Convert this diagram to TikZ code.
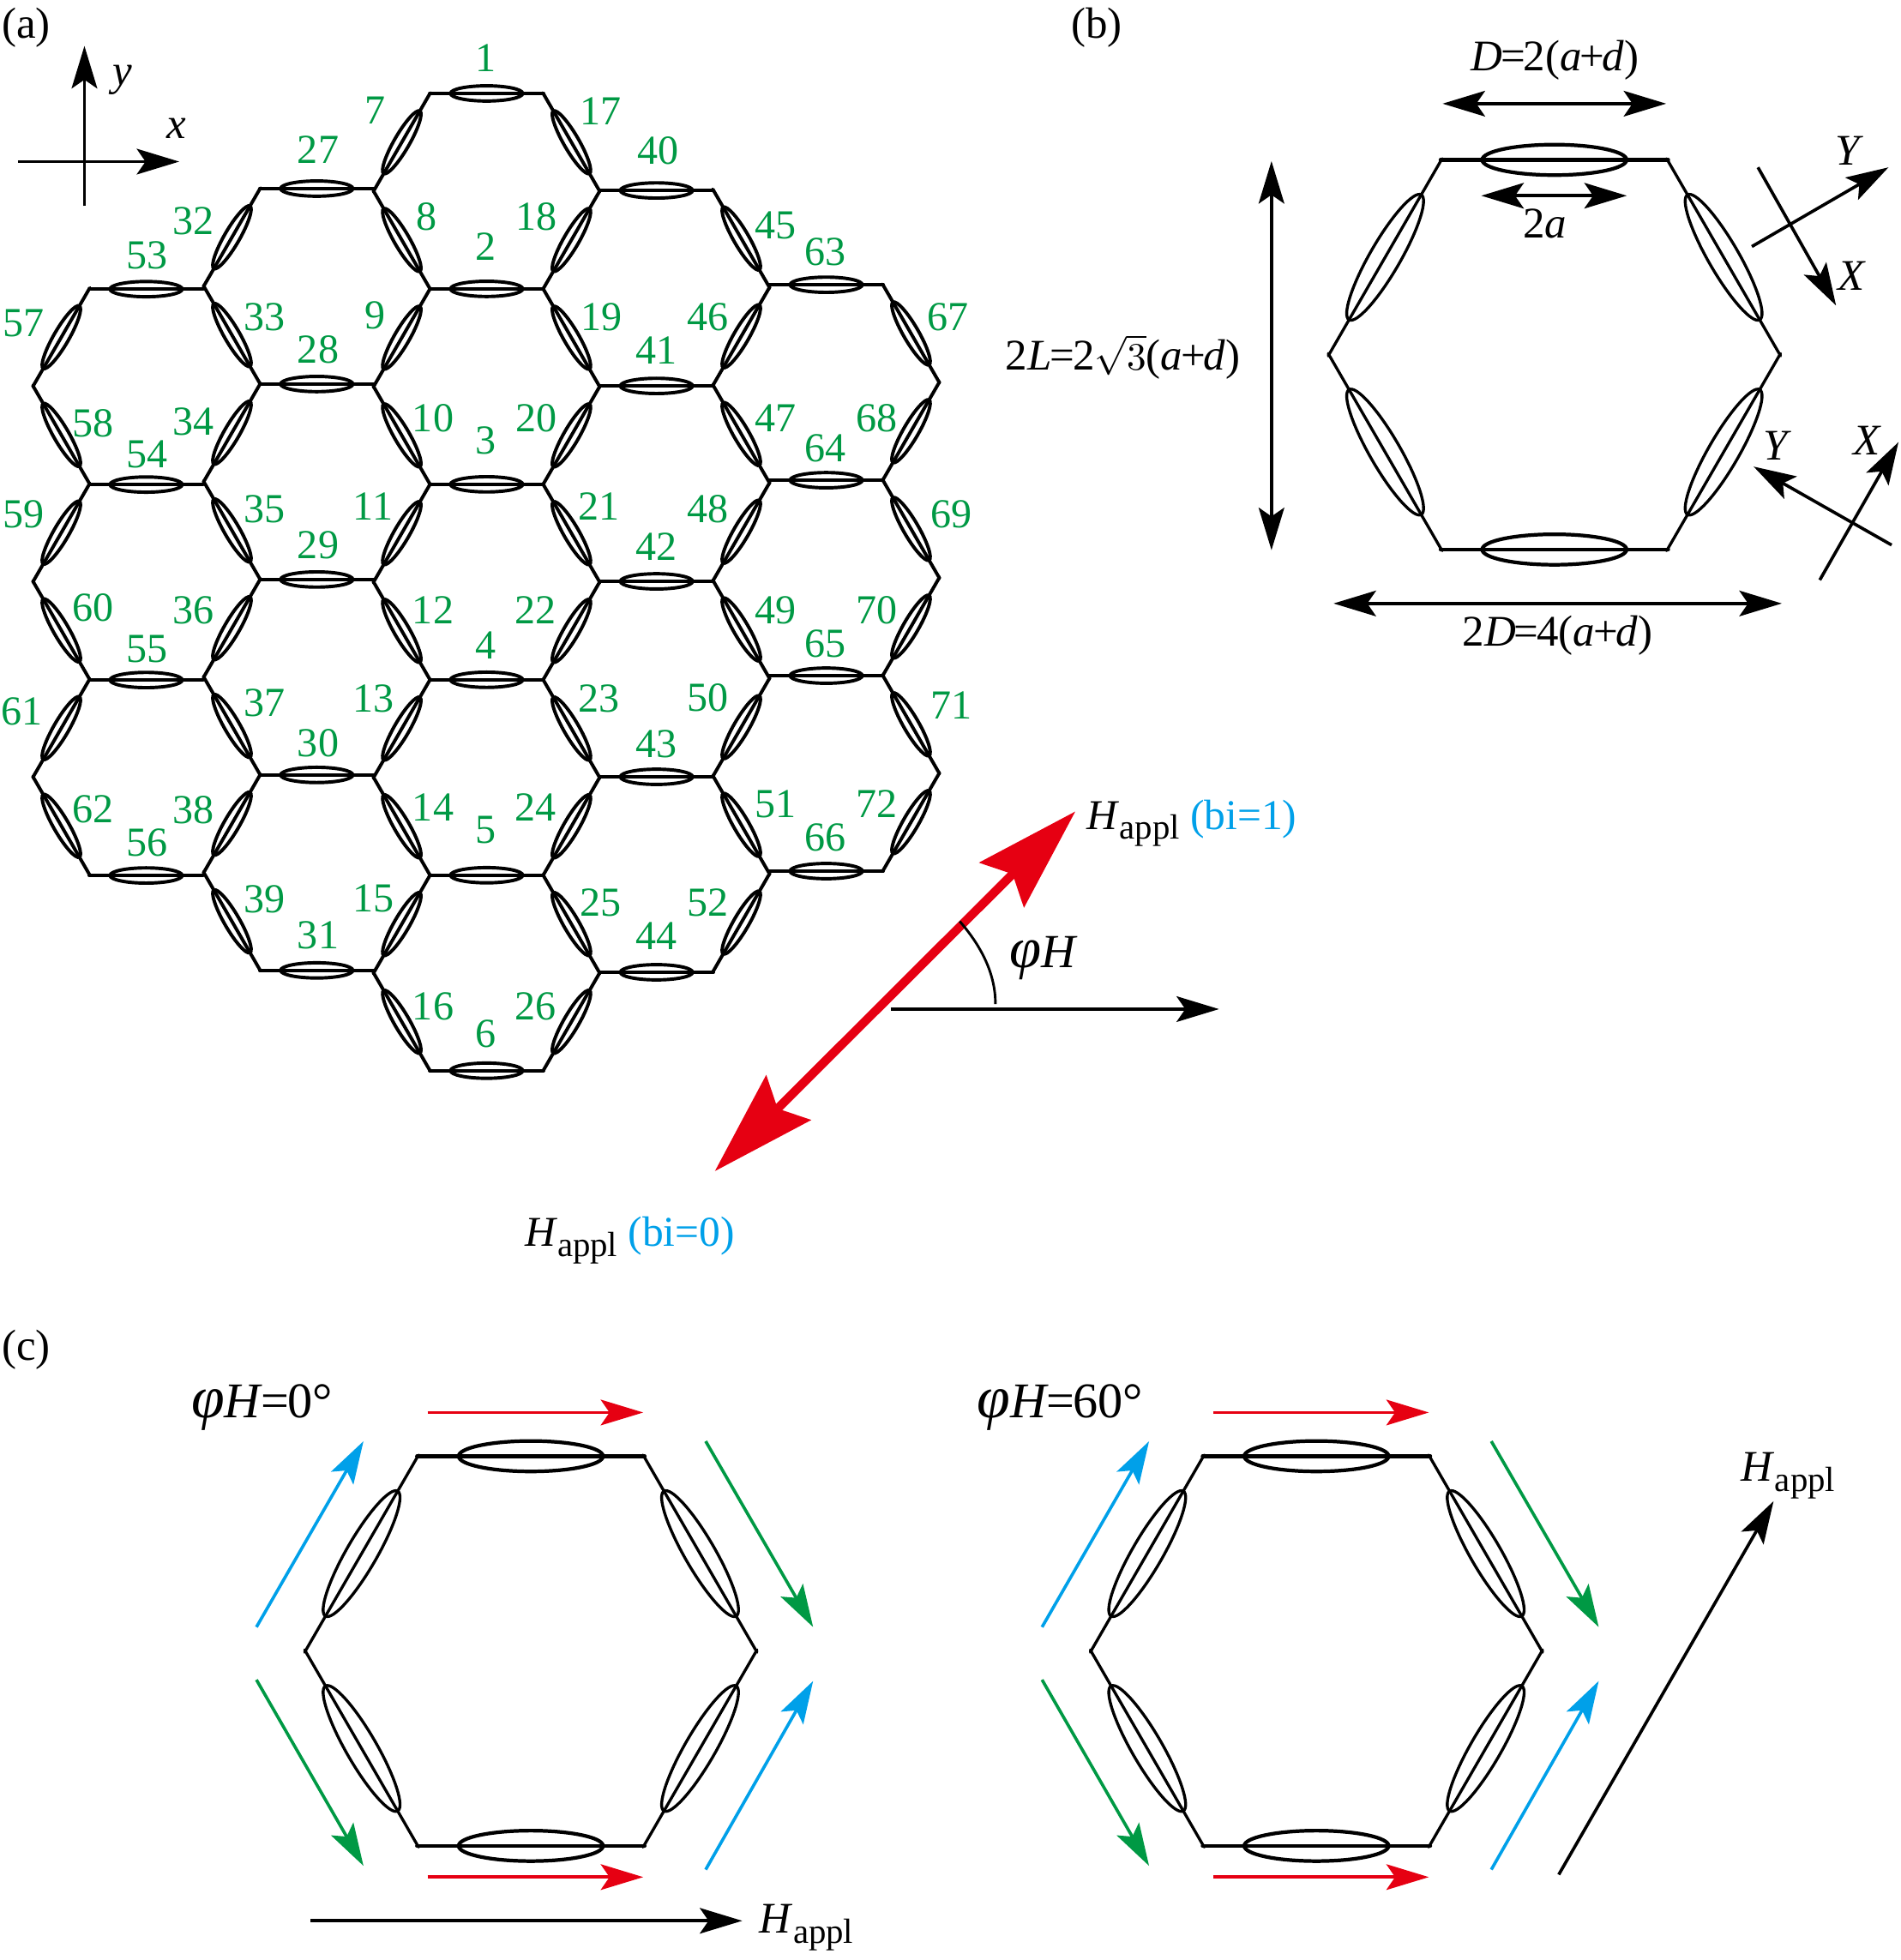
\documentclass[tikz,border=0pt]{standalone}
\usepackage{fontspec}
\setmainfont{Liberation Serif}
\usetikzlibrary{arrows.meta}
\definecolor{numgreen}{RGB}{0,153,68}
\definecolor{fieldred}{RGB}{230,0,18}
\definecolor{fieldblue}{RGB}{0,160,233}
\tikzset{
  numlabel/.style={text=numgreen, inner sep=0pt, xshift=.7pt, yshift=-.7pt, font=\fontsize{33}{33}\selectfont},
  txtlabel/.style={inner sep=0pt, font=\fontsize{35}{35}\selectfont},
  arr/.style={line width=2.5pt, -{Stealth[length=34pt,width=20.5pt,inset=7pt]}},
  dblarr/.style={line width=2.5pt, {Stealth[length=34pt,width=20.5pt,inset=7pt]}-{Stealth[length=34pt,width=20.5pt,inset=7pt]}},
}
% one element: wire through a flat ellipse
\newcommand{\elem}[4]{
  \begin{scope}[shift={(#1,#2)}, rotate=#3, scale=#4]
    \draw (-45.6,0) -- (45.6,0);
    \draw (0,0) ellipse [x radius=28.9pt, y radius=6.1pt];
  \end{scope}
}
\newcommand{\bighex}[2]{
  \begin{scope}[line width=2.9pt, line cap=round]
    \elem{#1}{#2-156}{0}{2}
    \elem{#1}{#2+156}{0}{2}
  \end{scope}
  \begin{scope}[line width=2.3pt, line cap=round]
    \elem{#1-135.5}{#2-78}{60}{2}
    \elem{#1+135.5}{#2-78}{-60}{2}
    \elem{#1-135.5}{#2+78}{-60}{2}
    \elem{#1+135.5}{#2+78}{60}{2}
  \end{scope}
}
\newcommand{\happl}{\textit{H}\raisebox{-8pt}{\fontsize{28}{28}\selectfont appl}}
\newcommand{\phiH}[2]{\fontsize{#1}{#1}\selectfont\textit{φ}\fontsize{#2}{#2}\selectfont\textit{H}}
\newcommand{\eqk}{\kern-1.5pt=\kern-1.5pt}
\newcommand{\plk}{\kern-1.5pt+\kern-1.5pt}
\newcommand{\rootthree}{\scalebox{3.1}{\fontsize{10}{12}\selectfont$\sqrt{3}$}}

\begin{document}
\begin{tikzpicture}[x=1pt, y=-1pt]
\useasboundingbox (0,0) rectangle (1522,1569.4);

% (a) lattice
\begin{scope}[line width=2.7pt, line cap=round]
\foreach \cx/\ty/\n in {389.6/74.8/5, 253.6/151/4, 525.6/152.5/4, 117/231.5/3, 661.5/228/3}
  \foreach \k in {0,...,\n}
    \elem{\cx}{\ty+156.5*\k}{0}{1};
\foreach \cx/\ty/\n/\s in {321.7/113.9/9/1, 457.5/113.9/9/-1, 185.7/190/7/1, 593.5/191/7/-1, 49.1/270/5/1, 729.4/267/5/-1}
  \foreach \k in {0,...,\n} {
    \pgfmathsetmacro{\ang}{60*\s*(1-2*mod(\k,2))}
    \elem{\cx}{\ty+78.25*\k}{\ang}{1}
  }
\end{scope}

\foreach \n/\x/\y in {1/388/46, 2/388/197, 3/388/352, 4/388/516, 5/388/664, 6/388/827,
  7/300/88, 8/341/173, 9/300/252, 10/346/334, 11/298/405, 12/346/488, 13/298/559, 14/346/646, 15/298/719, 16/346/805,
  17/480/88, 18/429/173, 19/481/253, 20/429/334, 21/479/405, 22/428/488, 23/479/559, 24/428/646, 25/480/722, 26/428/805,
  27/254/119, 28/254/279, 29/254/436, 30/254/594, 31/254/748,
  32/154/176, 33/211/253, 34/154/337, 35/211/407, 36/154/488, 37/211/562, 38/154/648, 39/211/719,
  40/526/120, 41/525/280, 42/525/437, 43/525/595, 44/525/749,
  45/620/180, 46/566/253, 47/620/334, 48/566/407, 49/620/488, 50/566/558, 51/620/643, 52/566/722,
  53/117/204, 54/117/363, 55/117/519, 56/117/674,
  57/18/258, 58/74/338, 59/18/411, 60/74/486, 61/17/569, 62/74/647,
  63/660/201, 64/660/358, 65/660/515, 66/660/670,
  67/758/253, 68/701/334, 69/761/411, 70/701/488, 71/761/564, 72/701/643}
  \node[numlabel] (n\n) at (\x,\y) {\n};

\node[txtlabel] (tagA) at (21,22) {(a)};
\draw[arr] (14.4,129.4) -- (143.5,129.4);
\node[txtlabel] (xlab) at (141,103) {\textit{x}};
\draw[arr] (67.6,165) -- (67.6,36.8);
\node[txtlabel] (ylab) at (98,64) {\textit{y}};

% field in (a)
\draw[line width=7pt, fieldred, {Stealth[length=83pt,width=50pt,inset=12pt]}-{Stealth[length=83pt,width=50pt,inset=12pt]}] (572.3,937.8) -- (861,649.7);
\draw[arr] (713,808) -- (976,808);
\draw[line width=2pt] (768.4,737.7) .. controls (786,758) and (797,780) .. (797,804);
\node[txtlabel, anchor=base west] (phiHa) at (808,775) {\phiH{46}{38}};
\node[txtlabel, font=\fontsize{34}{34}\selectfont, anchor=base west] (happlUp) at (870,664) {\happl\ \textcolor{fieldblue}{(bi=1)}};
\node[txtlabel, font=\fontsize{34}{34}\selectfont, anchor=base west] (happlDn) at (420,998) {\happl\ \textcolor{fieldblue}{(bi=0)}};

% (b)
\node[txtlabel] (tagB) at (878,22) {(b)};
\bighex{1244.5}{284}
\draw[dblarr] (1155,83) -- (1334,83);
\draw[dblarr] (1186,156.7) -- (1302.5,156.7);
\draw[dblarr] (1018,129) -- (1018,440.5);
\draw[dblarr] (1067.7,483.2) -- (1426.6,483.2);
\node[txtlabel] (labD) at (1245,48) {\textit{D}\eqk 2(\textit{a}\plk\textit{d})};
\node[txtlabel] (lab2a) at (1237,179) {2\textit{a}};
\node[txtlabel] (lab2L) at (899,286) {2\textit{L}\eqk 2\rootthree(\textit{a}\plk\textit{d})};
\node[txtlabel] (lab2D) at (1247,509) {2\textit{D}\eqk 4(\textit{a}\plk\textit{d})};
\draw[arr] (1407.5,134) -- (1470,244.6);
\draw[arr] (1402.6,197.4) -- (1512,134);
\draw[arr] (1514.5,436.4) -- (1404,373.6);
\draw[arr] (1457,464.4) -- (1520,354);
\node[txtlabel] (labY1) at (1481,121) {\textit{Y}};
\node[txtlabel] (labX1) at (1483,221) {\textit{X}};
\node[txtlabel] (labY2) at (1423,357) {\textit{Y}};
\node[txtlabel] (labX2) at (1495,353) {\textit{X}};

% (c)
\node[txtlabel] (tagC) at (21,1081) {(c)};
\foreach \dx in {0,629} {
  \bighex{425+\dx}{1322}
  \draw[arr, fieldred] (342.3+\dx,1131) -- (515+\dx,1131);
  \draw[arr, fieldred] (342.3+\dx,1503) -- (515+\dx,1503);
  \draw[arr, fieldblue] (205.3+\dx,1302.8) -- (291+\dx,1154);
  \draw[arr, numgreen] (565+\dx,1154) -- (651+\dx,1302.8);
  \draw[arr, numgreen] (205.3+\dx,1345) -- (291+\dx,1494);
  \draw[arr, fieldblue] (565+\dx,1497) -- (651+\dx,1346);
}
\node[txtlabel, anchor=base west] (phi0) at (153,1135) {\phiH{48}{40}\eqk 0°};
\node[txtlabel, anchor=base west] (phi60) at (782,1135) {\phiH{48}{40}\eqk 60°};
\draw[arr] (248.6,1538) -- (594.3,1538);
\node[txtlabel, anchor=base west] (happlC1) at (608,1548) {\happl};
\draw[arr] (1248,1501) -- (1420,1202);
\node[txtlabel, anchor=base west] (happlC2) at (1394,1186) {\happl};
\end{tikzpicture}
\end{document}
